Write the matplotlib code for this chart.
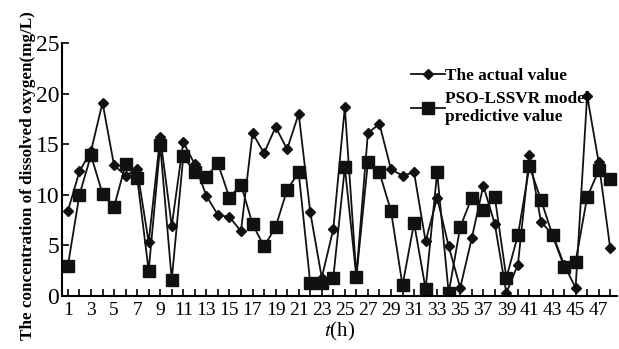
import numpy as np
import matplotlib.pyplot as plt

plt.rcParams['font.family'] = ['Liberation Serif', 'DejaVu Serif']
plt.rcParams['mathtext.fontset'] = 'stix'

hours = list(range(1, 49))
actual = [8.4, 12.3, 14.3, 19.1, 12.9, 11.9, 12.5, 5.3, 15.7, 6.9,
          15.2, 13.0, 9.9, 8.0, 7.8, 6.4, 16.1, 14.1, 16.7, 14.5,
          18.0, 8.3, 1.8, 6.6, 18.65, 2.0, 16.1, 17.0, 12.5, 11.9,
          12.2, 5.4, 9.7, 4.9, 0.8, 5.7, 10.9, 7.1, 0.3, 3.1,
          13.9, 7.3, 6.1, 3.1, 0.8, 19.8, 13.2, 4.7]
predicted = [3.0, 10.0, 13.9, 10.1, 8.8, 13.0, 11.7, 2.5, 14.9, 1.6,
             13.8, 12.2, 11.8, 13.1, 9.7, 11.0, 7.1, 4.9, 6.8, 10.5,
             12.2, 1.3, 1.3, 1.8, 12.7, 1.9, 13.2, 12.2, 8.4, 1.05,
             7.2, 0.7, 12.2, 0.3, 6.8, 9.7, 8.5, 9.75, 1.8, 6.0,
             12.8, 9.5, 6.0, 2.9, 3.4, 9.75, 12.4, 11.6]

fig = plt.figure(figsize=(6.19, 3.49), dpi=100)
ax = fig.add_axes([0.100, 0.152, 0.897, 0.725])

ax.plot(hours, actual, color='#111111', lw=1.3, marker='D', ms=5.5,
        label='The actual value')
ax.plot(hours, predicted, color='#111111', lw=1.3, marker='s', ms=8,
        label='PSO-LSSVR model\npredictive value')

ax.set_xlim(0.48, 48.6)
ax.set_ylim(0, 25)
ax.set_yticks(np.arange(0, 26, 5))
ax.set_xticks(np.arange(1, 49, 2))
ax.set_xticks(np.arange(2, 49, 2), minor=True)
ax.tick_params(axis='both', which='both', direction='in', length=5,
               width=1.2, pad=2)
ax.tick_params(axis='y', labelsize=17)
ax.tick_params(axis='x', labelsize=14, pad=4)
for s in ['top', 'right']:
    ax.spines[s].set_visible(False)
for s in ['left', 'bottom']:
    ax.spines[s].set_linewidth(1.5)

ax.set_xlabel('$t$(h)', fontsize=15, labelpad=1)
ax.set_ylabel('The concentration of dissolved oxygen(mg/L)', fontsize=12.3,
              fontweight='bold')
ax.yaxis.set_label_coords(-0.047, 0.474)

ax.legend(loc='upper left', bbox_to_anchor=(0.65, 0.83),
          bbox_transform=fig.transFigure, frameon=False,
          prop={'weight': 'bold', 'size': 12.4}, handlelength=2.0,
          handletextpad=0.0, labelspacing=0.4, borderpad=0)

fig.savefig('out.png', dpi=100)
